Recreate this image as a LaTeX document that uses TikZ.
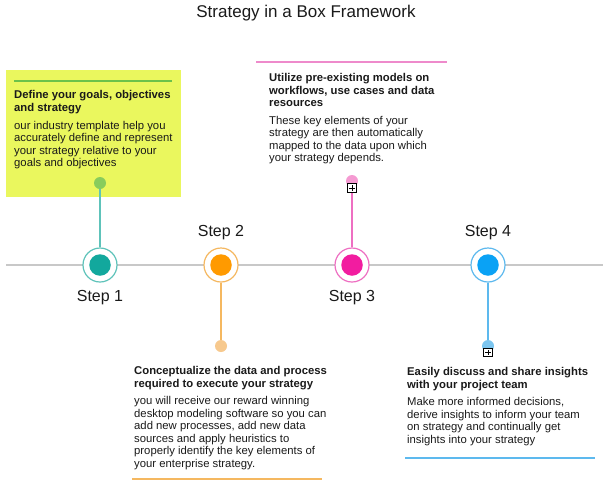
\documentclass[tikz,border=0pt]{standalone}
\usepackage{fontspec}
\setmainfont{Liberation Sans}
\usetikzlibrary{calc}
\definecolor{tlgray}{HTML}{C8C8C8}
\definecolor{txt}{HTML}{1A1A1A}
\definecolor{boxyellow}{HTML}{EAF75E}
\definecolor{tealA}{HTML}{12A89D}
\definecolor{tealB}{HTML}{5EC3BA}
\definecolor{greenline}{HTML}{6CC24A}
\definecolor{greendot}{HTML}{88CC5C}
\definecolor{orangeA}{HTML}{FF9A00}
\definecolor{orangeB}{HTML}{F5B860}
\definecolor{orangedot}{HTML}{F7C98E}
\definecolor{pinkA}{HTML}{F21CA0}
\definecolor{pinkB}{HTML}{EE6FC2}
\definecolor{pinkdot}{HTML}{F59AD2}
\definecolor{pinkline}{HTML}{EE8ACB}
\definecolor{blueA}{HTML}{0AA2F5}
\definecolor{blueB}{HTML}{5DB9EE}
\definecolor{bluedot}{HTML}{7CC6F0}
\begin{document}
\begin{tikzpicture}[x=1pt,y=-1pt,
  ring/.style={circle, draw=#1, line width=1.2pt, minimum size=34pt, inner sep=0pt, fill=white},
  core/.style={circle, fill=#1, minimum size=21.5pt, inner sep=0pt},
  dotnode/.style={circle, fill=#1, minimum size=12pt, inner sep=0pt},
  plusbox/.style={draw=black, fill=white, minimum size=8.5pt, inner sep=0pt, line width=0.6pt,
    path picture={
      \draw[line width=0.6pt] ($(path picture bounding box.west)!0.18!(path picture bounding box.east)$) -- ($(path picture bounding box.west)!0.82!(path picture bounding box.east)$);
      \draw[line width=0.6pt] ($(path picture bounding box.north)!0.18!(path picture bounding box.south)$) -- ($(path picture bounding box.north)!0.82!(path picture bounding box.south)$);
    }},
  conn/.style={draw=#1, line width=1.2pt},
  steplabel/.style={text=txt, inner sep=0pt, font=\fontsize{16}{19}\selectfont},
  head/.style={anchor=north west, inner sep=0pt, align=left, text=txt, font=\bfseries\fontsize{11.3}{12.8}\selectfont},
  body/.style={anchor=north west, inner sep=0pt, align=left, text=txt, font=\fontsize{11.3}{12.5}\selectfont},
  rule/.style={draw=#1, line width=1.3pt}
]
\useasboundingbox (0,0) rectangle (615,490);
\fill[white] (0,0) rectangle (615,490);

% title
\node[text=txt, inner sep=0pt, font=\fontsize{17}{20}\selectfont] (title) at (306,13) {Strategy in a Box Framework};

% yellow box (step 1 text)
\fill[boxyellow] (6,70) rectangle (181,197);
\coordinate (g1a) at (14,81);
\coordinate (g1b) at (172,81);
\draw[rule=greenline] (g1a) -- (g1b);
\node[head] (h1) at (14,90) {Define your goals, objectives\\and strategy};
\node[body] (b1) at (14,121) {our industry template help you\\accurately define and represent\\your strategy relative to your\\goals and objectives};

% step 3 text
\coordinate (g3a) at (256,62);
\coordinate (g3b) at (447,62);
\draw[rule=pinkline] (g3a) -- (g3b);
\node[head] (h3) at (269,73) {Utilize pre-existing models on\\workflows, use cases and data\\resources};
\node[body] (b3) at (269,116) {These key elements of your\\strategy are then automatically\\mapped to the data upon which\\your strategy depends.};

% step 2 text
\node[head] (h2) at (134,366.5) {Conceptualize the data and process\\required to execute your strategy};
\node[body] (b2) at (134,396.5) {you will receive our reward winning\\desktop modeling software so you can\\add new processes, add new data\\sources and apply heuristics to\\properly identify the key elements of\\your enterprise strategy.};
\coordinate (g2a) at (132,479);
\coordinate (g2b) at (322,479);
\draw[rule=orangeB] (g2a) -- (g2b);

% step 4 text
\node[head] (h4) at (407,367.5) {Easily discuss and share insights\\with your project team};
\node[body] (b4) at (407,397.5) {Make more informed decisions,\\derive insights to inform your team\\on strategy and continually get\\insights into your strategy};
\coordinate (g4a) at (405,458);
\coordinate (g4b) at (595,458);
\draw[rule=blueB] (g4a) -- (g4b);

% timeline
\coordinate (tla) at (6,265);
\coordinate (tlb) at (603,265);
\draw[tlgray, line width=1.5pt] (tla) -- (tlb);

% step circles
\node[ring=tealB] (s1) at (100,265) {};
\node[core=tealA] (c1) at (s1.center) {};
\node[ring=orangeB] (s2) at (221,265) {};
\node[core=orangeA] (c2) at (s2.center) {};
\node[ring=pinkB] (s3) at (352,265) {};
\node[core=pinkA] (c3) at (s3.center) {};
\node[ring=blueB] (s4) at (488,265) {};
\node[core=blueA] (c4) at (s4.center) {};

% step labels
\node[steplabel] (l1) at (100,298) {Step 1};
\node[steplabel] (l2) at (221,233) {Step 2};
\node[steplabel] (l3) at (352,298) {Step 3};
\node[steplabel] (l4) at (488,233) {Step 4};

% connectors and end dots
\node[dotnode=greendot] (d1) at (100,183) {};
\draw[conn=tealB] (s1) -- (d1);

\node[dotnode=orangedot] (d2) at (221,346) {};
\draw[conn=orangeB] (s2) -- (d2);

\node[dotnode=pinkdot] (d3) at (352,181) {};
\node[plusbox] (p3) at (352,188) {};
\draw[conn=pinkB] (s3) -- (p3);

\node[dotnode=bluedot] (d4) at (488,346) {};
\draw[conn=blueB] (s4) -- (d4);
\node[plusbox] (p4) at (488,352.5) {};
\end{tikzpicture}
\end{document}
